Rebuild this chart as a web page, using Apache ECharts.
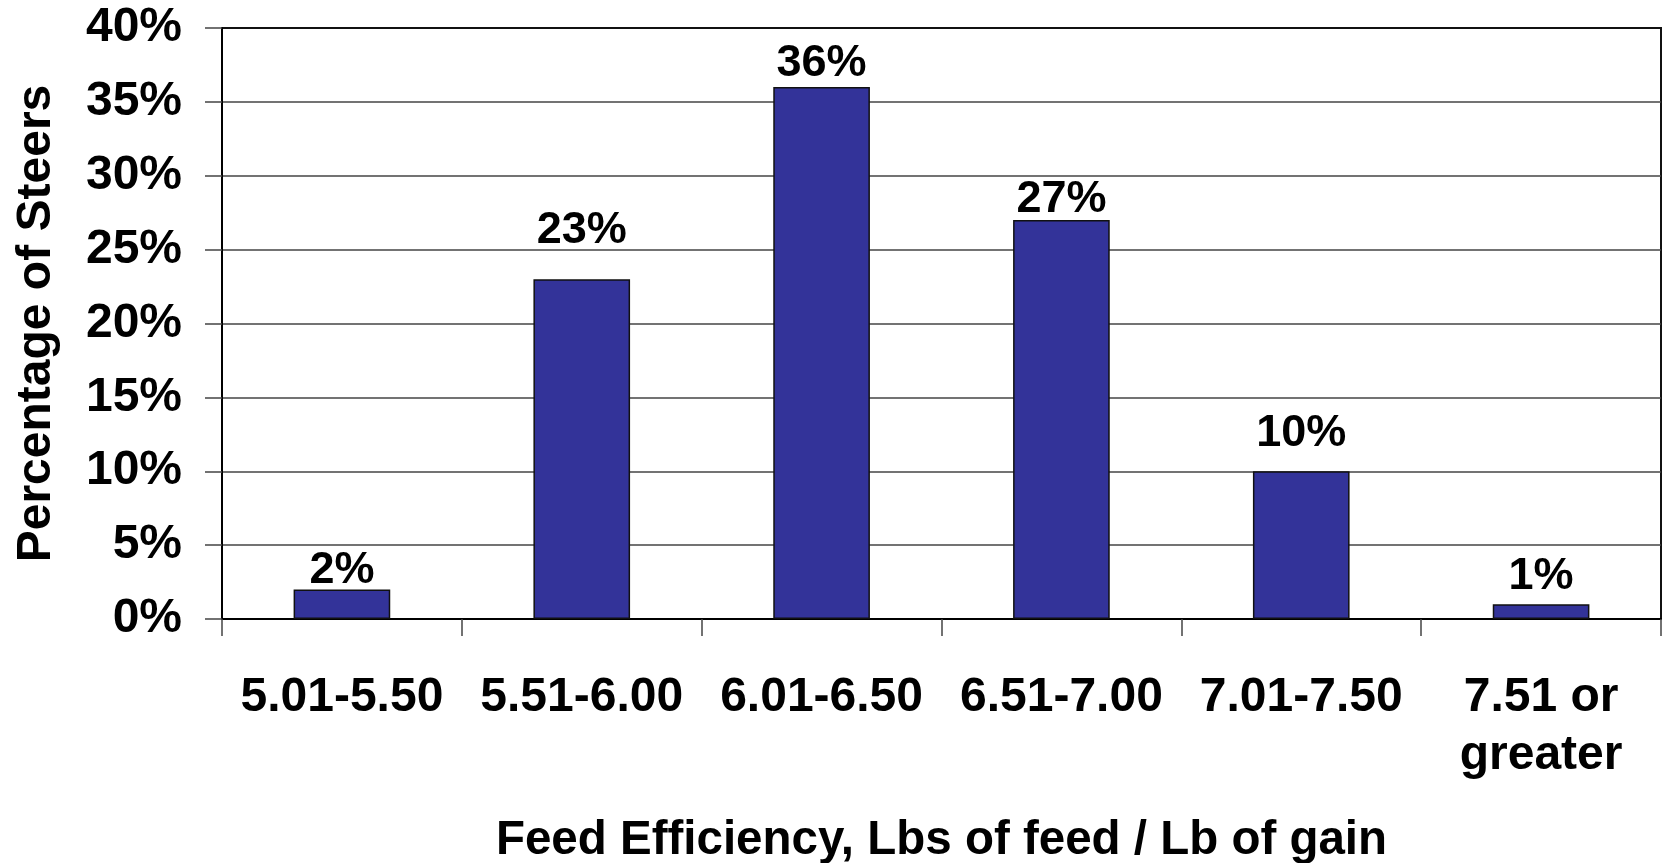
<!DOCTYPE html>
<html>
<head>
<meta charset="utf-8">
<script src="https://cdn.jsdelivr.net/npm/echarts@6/dist/echarts.min.js"></script>
<style>
  html, body { margin: 0; padding: 0; background: #fff; }
  #chart { width: 1663px; height: 863px; }
</style>
</head>
<body>
<div id="chart"></div>
<script>
const categories = ['5.01-5.50', '5.51-6.00', '6.01-6.50', '6.51-7.00', '7.01-7.50', '7.51 or\ngreater'];
const percentSteers = [2, 23, 36, 27, 10, 1];
const yMin = 0, yMax = 40, yStep = 5;

// label placement (style only): gap between bar top and its value label, px
const labelGap = [-4, 26, 1, -2, 15, 5];

const FONT = '"Liberation Sans", Arial, Helvetica, sans-serif';
const chart = echarts.init(document.getElementById('chart'), null, { renderer: 'canvas' });
chart.setOption({
  animation: false,
  backgroundColor: '#ffffff',
  grid: {
    left: 222, right: 2, top: 28, bottom: 244,
    outerBoundsMode: 'none', containLabel: false,
    show: true, borderColor: '#111', borderWidth: 2, backgroundColor: 'transparent'
  },
  xAxis: {
    type: 'category',
    data: categories,
    axisLine: { show: true, lineStyle: { color: '#000', width: 2 } },
    axisTick: { show: true, alignWithLabel: false, length: 17, lineStyle: { color: '#444', width: 1.5 } },
    axisLabel: {
      interval: 0, margin: 50, color: '#000', fontFamily: FONT,
      fontWeight: 'bold', fontSize: 48, lineHeight: 58
    },
    name: 'Feed Efficiency, Lbs of feed / Lb of gain',
    nameLocation: 'middle',
    nameGap: 194,
    nameTextStyle: { color: '#000', fontFamily: FONT, fontWeight: 'bold', fontSize: 47.5, lineHeight: 56 }
  },
  yAxis: {
    type: 'value',
    min: yMin, max: yMax, interval: yStep,
    axisLine: { show: true, lineStyle: { color: '#000', width: 2 } },
    axisTick: { show: true, length: 17, lineStyle: { color: '#444', width: 1.5 } },
    splitLine: { show: true, showMaxLine: false, lineStyle: { color: '#444', width: 1.5 } },
    axisLabel: {
      formatter: '{value}%', margin: 40, color: '#000', fontFamily: FONT,
      fontWeight: 'bold', fontSize: 48
    },
    name: 'Percentage of Steers',
    nameLocation: 'middle',
    nameGap: 157,
    nameRotate: 90,
    nameTextStyle: { color: '#000', fontFamily: FONT, fontWeight: 'bold', fontSize: 48, lineHeight: 56 }
  },
  series: [{
    type: 'bar',
    data: percentSteers.map((v, i) => ({ value: v, label: { distance: labelGap[i] } })),
    barWidth: '40.3%',
    itemStyle: { color: '#333399', borderColor: '#111', borderWidth: 1.5 },
    label: {
      show: true, position: 'top', distance: 5,
      formatter: '{c}%', color: '#000', fontFamily: FONT, fontWeight: 'bold', fontSize: 45, lineHeight: 45
    }
  }]
});
</script>
</body>
</html>
